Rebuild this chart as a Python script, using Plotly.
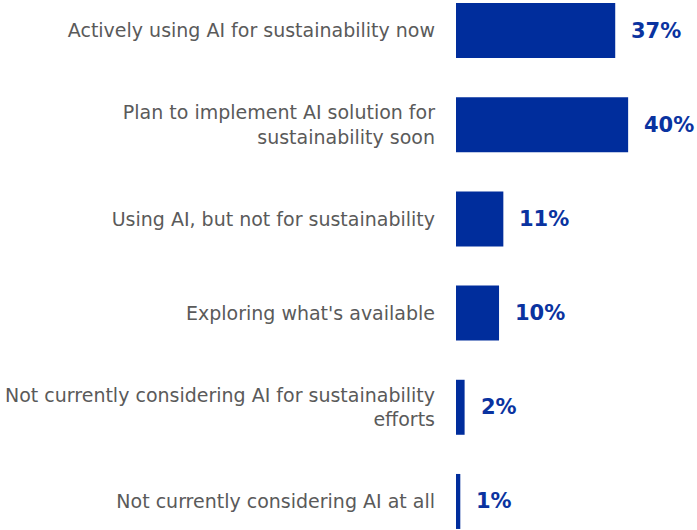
import plotly.graph_objects as go

categories = [
    "Actively using AI for sustainability now",
    "Plan to implement AI solution for<br>sustainability soon",
    "Using AI, but not for sustainability",
    "Exploring what's available",
    "Not currently considering AI for sustainability<br>efforts",
    "Not currently considering AI at all",
]
values = [37, 40, 11, 10, 2, 1]
value_labels = ["37%", "40%", "11%", "10%", "2%", "1%"]

BLUE = "#002D9C"

fig = go.Figure(go.Bar(
    x=values, y=categories, orientation="h",
    marker=dict(color=BLUE, line=dict(width=0)),
    width=0.584, hoverinfo="skip",
))

for v, c, t in zip(values, categories, value_labels):
    fig.add_annotation(x=v, y=c, text=t, xanchor="left", yanchor="middle",
                       xshift=14, showarrow=False,
                       font=dict(family="DejaVu Sans", size=21, color="#0A33A0", weight="bold"))

fig.update_layout(
    width=697, height=530,
    margin=dict(l=456, r=0, t=0, b=0),
    paper_bgcolor="white", plot_bgcolor="white",
    showlegend=False,
    xaxis=dict(range=[0, 56], visible=False),
    yaxis=dict(
        type="category", categoryarray=categories, range=[5.303, -0.324],
        showgrid=False, zeroline=False, showline=False,
        ticks="", ticklabelstandoff=20,
        tickfont=dict(family="DejaVu Sans", size=19, color="#5A5A5A"),
    ),
)

fig.write_html("out.html", config={"displayModeBar": False},
               post_script="document.body.style.margin='0';")
